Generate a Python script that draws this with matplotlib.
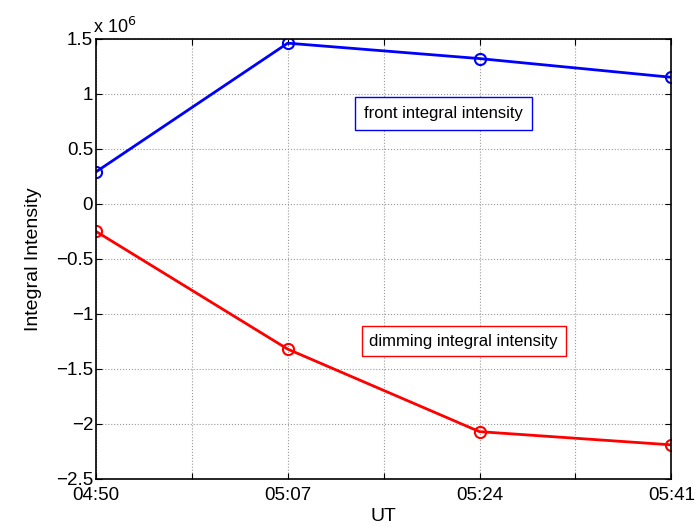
import numpy as np
import matplotlib.pyplot as plt

plt.rcParams['font.family'] = ['Liberation Sans', 'DejaVu Sans']

# minutes after 04:50
minutes = [0, 17, 34, 51]
tick_labels = ['04:50', '', '05:07', '', '05:24', '', '05:41']
front = [0.29e6, 1.46e6, 1.32e6, 1.15e6]
dimming = [-0.25e6, -1.32e6, -2.07e6, -2.19e6]

fig = plt.figure(figsize=(7, 5.31), dpi=100)
ax = fig.add_axes([0.137, 0.098, 0.822, 0.829])

ax.plot(minutes, front, color='blue', lw=2, marker='o', ms=8, mfc='none', mew=1.5)
ax.plot(minutes, dimming, color='red', lw=2, marker='o', ms=8, mfc='none', mew=1.5)

ax.set_xlim(0, 51)
ax.set_ylim(-2.5e6, 1.5e6)
ax.set_xticks(np.arange(0, 51.1, 8.5))
ax.set_xticklabels(tick_labels)
ax.set_yticks(np.arange(-2.5e6, 1.6e6, 0.5e6))
ax.set_yticklabels(['\u22122.5', '\u22122', '\u22121.5', '\u22121', '\u22120.5', '0', '0.5', '1', '1.5'])
ax.grid(True, linestyle=':', color='#999999', lw=0.8)
ax.tick_params(direction='in', labelsize=13.5, length=4, top=True, right=True, pad=2)
ax.tick_params(axis='x', pad=6)
for s in ax.spines.values():
    s.set_linewidth(1.2)

ax.text(-0.3, 1.52e6, r'x 10$^6$', fontsize=13, ha='left', va='bottom')

ax.text(30.8, 0.82e6, 'front integral intensity', fontsize=12, ha='center', va='center',
        bbox=dict(boxstyle='square,pad=0.55', fc='white', ec='blue', lw=1))
ax.text(32.6, -1.25e6, 'dimming integral intensity', fontsize=12, ha='center', va='center',
        bbox=dict(boxstyle='square,pad=0.45', fc='white', ec='red', lw=1))

ax.set_xlabel('UT', fontsize=14, labelpad=3)
ax.set_ylabel('Integral Intensity', fontsize=14, labelpad=10)

fig.savefig('out.png', dpi=100)
